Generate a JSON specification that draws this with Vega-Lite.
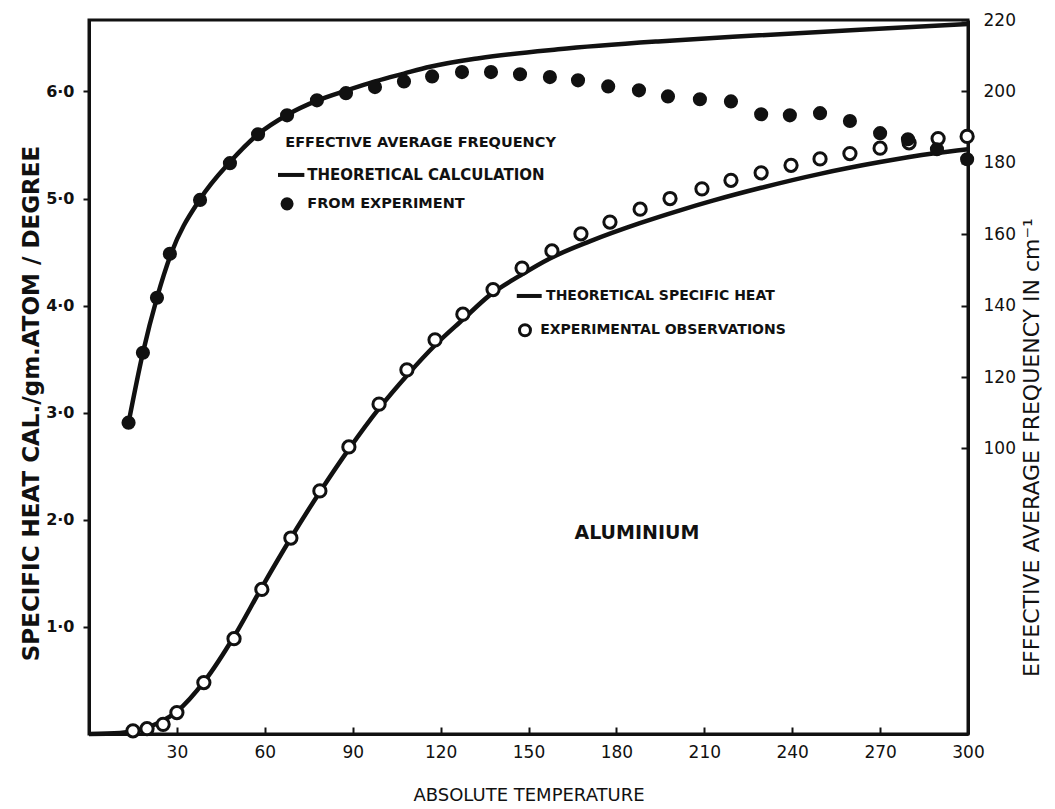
{
  "$schema": "https://vega.github.io/schema/vega-lite/v6.json",
  "autosize": "none",
  "width": 879,
  "height": 714,
  "padding": {"left": 89, "top": 20, "right": 87, "bottom": 75},
  "background": "white",
  "config": {
    "font": "DejaVu Sans",
    "view": {"stroke": "#111", "strokeWidth": 3},
    "axis": {"grid": false, "labelFlush": false, "labelOverlap": false, "domainColor": "#111", "domainWidth": 3, "tickColor": "#111", "tickWidth": 2, "labelColor": "#111", "titleColor": "#111"}
  },
  "datasets": {
    "heat_theory": [
      {"T": 0, "C": 0}, {"T": 10.6, "C": 0.01}, {"T": 17.4, "C": 0.04}, {"T": 24.2, "C": 0.11}, {"T": 30, "C": 0.21},
      {"T": 39.6, "C": 0.5}, {"T": 49.5, "C": 0.91}, {"T": 59, "C": 1.37}, {"T": 68.9, "C": 1.83}, {"T": 78.8, "C": 2.26},
      {"T": 88.7, "C": 2.66}, {"T": 99, "C": 3.04}, {"T": 108.9, "C": 3.36}, {"T": 118.1, "C": 3.63}, {"T": 127.6, "C": 3.87},
      {"T": 136.9, "C": 4.1}, {"T": 147.1, "C": 4.28}, {"T": 157.3, "C": 4.44}, {"T": 170.9, "C": 4.6}, {"T": 188, "C": 4.77},
      {"T": 201.7, "C": 4.89}, {"T": 212.9, "C": 4.98}, {"T": 229.4, "C": 5.1}, {"T": 249.5, "C": 5.23}, {"T": 270, "C": 5.34},
      {"T": 288, "C": 5.42}, {"T": 300, "C": 5.46}
    ],
    "heat_exp": [
      {"T": 15, "C": 0.03}, {"T": 19.8, "C": 0.05}, {"T": 25.3, "C": 0.09}, {"T": 30, "C": 0.2}, {"T": 39.2, "C": 0.48},
      {"T": 49.5, "C": 0.89}, {"T": 59, "C": 1.35}, {"T": 68.9, "C": 1.83}, {"T": 78.8, "C": 2.27}, {"T": 88.7, "C": 2.68},
      {"T": 99, "C": 3.08}, {"T": 108.5, "C": 3.4}, {"T": 118.1, "C": 3.68}, {"T": 127.6, "C": 3.92}, {"T": 137.9, "C": 4.15},
      {"T": 147.8, "C": 4.35}, {"T": 158, "C": 4.51}, {"T": 167.9, "C": 4.67}, {"T": 177.8, "C": 4.78}, {"T": 188.1, "C": 4.9},
      {"T": 198.3, "C": 5.0}, {"T": 209.2, "C": 5.09}, {"T": 219.1, "C": 5.17}, {"T": 229.4, "C": 5.24}, {"T": 239.6, "C": 5.31},
      {"T": 249.5, "C": 5.37}, {"T": 259.7, "C": 5.42}, {"T": 270, "C": 5.47}, {"T": 279.9, "C": 5.52}, {"T": 289.8, "C": 5.56},
      {"T": 299.7, "C": 5.58}
    ],
    "freq_theory": [
      {"T": 13.5, "f": 107.2}, {"T": 18.4, "f": 126.8}, {"T": 23.2, "f": 142.2}, {"T": 28, "f": 154.5}, {"T": 37.9, "f": 169.8},
      {"T": 48.1, "f": 180.2}, {"T": 57.7, "f": 188.0}, {"T": 67.6, "f": 193.4}, {"T": 77.8, "f": 197.4}, {"T": 87.7, "f": 200.2},
      {"T": 97.6, "f": 202.8}, {"T": 107.5, "f": 205.0}, {"T": 116.4, "f": 206.9}, {"T": 133.1, "f": 209.3}, {"T": 160.1, "f": 211.8},
      {"T": 194.2, "f": 214.0}, {"T": 228.7, "f": 215.7}, {"T": 263.1, "f": 217.3}, {"T": 300, "f": 218.9}
    ],
    "freq_exp": [
      {"T": 13.5, "f": 107.2}, {"T": 18.4, "f": 126.8}, {"T": 23.2, "f": 142.2}, {"T": 27.6, "f": 154.5}, {"T": 37.9, "f": 169.6},
      {"T": 48.1, "f": 179.9}, {"T": 57.7, "f": 188.0}, {"T": 67.6, "f": 193.3}, {"T": 77.8, "f": 197.5}, {"T": 87.7, "f": 199.5},
      {"T": 97.6, "f": 201.2}, {"T": 107.5, "f": 202.8}, {"T": 117.1, "f": 204.2}, {"T": 127.3, "f": 205.4}, {"T": 137.2, "f": 205.4},
      {"T": 147.1, "f": 204.8}, {"T": 157.3, "f": 204.0}, {"T": 166.9, "f": 203.1}, {"T": 177.2, "f": 201.4}, {"T": 187.7, "f": 200.3},
      {"T": 197.6, "f": 198.6}, {"T": 208.5, "f": 197.8}, {"T": 219.1, "f": 197.2}, {"T": 229.4, "f": 193.6}, {"T": 239.2, "f": 193.3},
      {"T": 249.5, "f": 193.9}, {"T": 259.7, "f": 191.7}, {"T": 270, "f": 188.3}, {"T": 279.5, "f": 186.6}, {"T": 289.4, "f": 183.8},
      {"T": 299.7, "f": 181.0}
    ]
  },
  "layer": [
    {
      "layer": [
        {
          "data": {"name": "heat_theory"},
          "mark": {"type": "line", "color": "#111", "strokeWidth": 4.5, "interpolate": "monotone"},
          "encoding": {
            "x": {"field": "T", "type": "quantitative", "scale": {"domain": [0, 300], "nice": false},
              "axis": {"title": "ABSOLUTE TEMPERATURE", "values": [30, 60, 90, 120, 150, 180, 210, 240, 270, 300], "tickSize": -7, "labelPadding": 17, "labelFontSize": 17, "titleFontSize": 18, "titleFontWeight": "normal", "titlePadding": 26}},
            "y": {"field": "C", "type": "quantitative", "scale": {"domain": [0, 6.6667], "nice": false, "zero": false},
              "axis": {"orient": "left", "title": "SPECIFIC HEAT CAL./gm.ATOM / DEGREE", "values": [1, 2, 3, 4, 5, 6], "labelExpr": "replace(format(datum.value, '.1f'), '.', '·')", "tickSize": 6, "labelPadding": 9, "labelFontSize": 16, "labelFontWeight": "bold", "titleFontSize": 23, "titleFontWeight": "bold", "titlePadding": 2, "titleY": 383}}
          }
        },
        {
          "data": {"name": "heat_exp"},
          "mark": {"type": "point", "shape": "circle", "filled": true, "fill": "white", "stroke": "#111", "strokeWidth": 3, "size": 150, "opacity": 1},
          "encoding": {
            "x": {"field": "T", "type": "quantitative"},
            "y": {"field": "C", "type": "quantitative"}
          }
        },
        {
          "data": {"values": [{}]},
          "mark": {"type": "text", "align": "left", "baseline": "middle", "fontSize": 14.5, "fontWeight": "bold", "color": "#111"},
          "encoding": {"x": {"datum": 67}, "y": {"datum": 5.52}, "text": {"value": "EFFECTIVE AVERAGE FREQUENCY"}}
        },
        {
          "data": {"values": [{}]},
          "mark": {"type": "rule", "color": "#111", "strokeWidth": 4},
          "encoding": {"x": {"datum": 64.5}, "x2": {"datum": 73.5}, "y": {"datum": 5.22}}
        },
        {
          "data": {"values": [{}]},
          "mark": {"type": "text", "align": "left", "baseline": "middle", "fontSize": 15, "fontWeight": "bold", "color": "#111"},
          "encoding": {"x": {"datum": 74.5}, "y": {"datum": 5.22}, "text": {"value": "THEORETICAL CALCULATION"}}
        },
        {
          "data": {"values": [{}]},
          "mark": {"type": "point", "shape": "circle", "filled": true, "color": "#111", "size": 170, "opacity": 1},
          "encoding": {"x": {"datum": 67.6}, "y": {"datum": 4.95}}
        },
        {
          "data": {"values": [{}]},
          "mark": {"type": "text", "align": "left", "baseline": "middle", "fontSize": 14.5, "fontWeight": "bold", "color": "#111"},
          "encoding": {"x": {"datum": 74.5}, "y": {"datum": 4.95}, "text": {"value": "FROM EXPERIMENT"}}
        },
        {
          "data": {"values": [{}]},
          "mark": {"type": "rule", "color": "#111", "strokeWidth": 4},
          "encoding": {"x": {"datum": 146}, "x2": {"datum": 154.5}, "y": {"datum": 4.09}}
        },
        {
          "data": {"values": [{}]},
          "mark": {"type": "text", "align": "left", "baseline": "middle", "fontSize": 14, "fontWeight": "bold", "color": "#111"},
          "encoding": {"x": {"datum": 156}, "y": {"datum": 4.09}, "text": {"value": "THEORETICAL SPECIFIC HEAT"}}
        },
        {
          "data": {"values": [{}]},
          "mark": {"type": "point", "shape": "circle", "filled": true, "fill": "white", "stroke": "#111", "strokeWidth": 3, "size": 120, "opacity": 1},
          "encoding": {"x": {"datum": 148.8}, "y": {"datum": 3.77}}
        },
        {
          "data": {"values": [{}]},
          "mark": {"type": "text", "align": "left", "baseline": "middle", "fontSize": 14, "fontWeight": "bold", "color": "#111"},
          "encoding": {"x": {"datum": 154}, "y": {"datum": 3.77}, "text": {"value": "EXPERIMENTAL OBSERVATIONS"}}
        },
        {
          "data": {"values": [{}]},
          "mark": {"type": "text", "align": "center", "baseline": "middle", "fontSize": 19, "fontWeight": "bold", "color": "#111"},
          "encoding": {"x": {"datum": 187}, "y": {"datum": 1.88}, "text": {"value": "ALUMINIUM"}}
        }
      ]
    },
    {
      "layer": [
        {
          "data": {"name": "freq_theory"},
          "mark": {"type": "line", "color": "#111", "strokeWidth": 4.5, "interpolate": "monotone"},
          "encoding": {
            "x": {"field": "T", "type": "quantitative"},
            "y": {"field": "f", "type": "quantitative", "scale": {"domain": [20, 220], "nice": false, "zero": false},
              "axis": {"orient": "right", "title": "EFFECTIVE AVERAGE FREQUENCY IN cm⁻¹", "values": [100, 120, 140, 160, 180, 200, 220], "tickSize": -7, "labelPadding": 22, "labelFontSize": 17, "titleFontSize": 22, "titleFontWeight": "normal", "titleAngle": 270, "titlePadding": 28, "titleY": 427}}
          }
        },
        {
          "data": {"name": "freq_exp"},
          "mark": {"type": "point", "shape": "circle", "filled": true, "color": "#111", "size": 200, "opacity": 1},
          "encoding": {
            "x": {"field": "T", "type": "quantitative"},
            "y": {"field": "f", "type": "quantitative"}
          }
        }
      ]
    }
  ],
  "resolve": {"scale": {"y": "independent"}}
}
